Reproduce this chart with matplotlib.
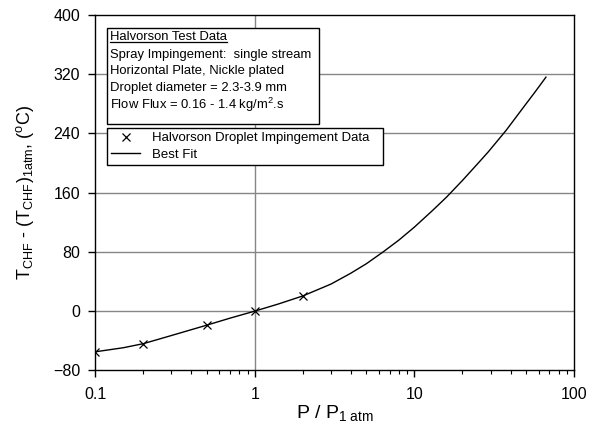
import matplotlib
matplotlib.use("Agg")
import matplotlib.pyplot as plt
from matplotlib.patches import Rectangle
from matplotlib.lines import Line2D
from matplotlib.ticker import FixedLocator, FixedFormatter, LogLocator, NullFormatter

plt.rcParams['font.family'] = ['Liberation Sans', 'DejaVu Sans']
plt.rcParams['mathtext.fontset'] = 'custom'
plt.rcParams['mathtext.rm'] = 'Liberation Sans'
plt.rcParams['mathtext.it'] = 'Liberation Sans:italic'

# Halvorson droplet impingement data
p_data = [0.1, 0.2, 0.5, 1.0, 2.0]
dt_data = [-55, -44, -19, 0, 20]

# best fit curve
p_fit = [0.1, 0.15, 0.2, 0.3, 0.5, 0.7, 1.0, 1.4, 2.0, 3.0, 3.98, 5.0, 6.37, 8.0, 10.0,
         13.0, 15.9, 20.0, 25.0, 29.0, 37.5, 48.1, 57.0, 66.7]
dt_fit = [-55, -49.5, -44, -33, -19, -9.5, 0, 9.5, 20.5, 36.5, 51, 64, 80, 96, 113.5,
          136, 154, 176.5, 199.5, 215, 244, 275, 296, 316]

y_ticks = [-80, 0, 80, 160, 240, 320, 400]
x_ticks = [0.1, 1, 10, 100]
x_labels = ['0.1', '1', '10', '100']

info_title = "Halvorson Test Data"
info_lines = ["Spray Impingement:  single stream",
              "Horizontal Plate, Nickle plated",
              "Droplet diameter = 2.3-3.9 mm",
              "Flow Flux = 0.16 - 1.4 kg/m$^2$.s"]

W, H = 593, 423
fig = plt.figure(figsize=(W / 100, H / 100), dpi=100)
ax = fig.add_axes([95.3 / W, 1 - 370.3 / H, (574 - 95.3) / W, (370.3 - 15) / H])

ax.set_xscale('log')
ax.set_xlim(0.1, 100)
ax.set_ylim(-80, 400)

for yv in y_ticks[1:-1]:
    ax.axhline(yv, color='#868686', lw=1, zorder=1)
ax.axvline(1, color='#868686', lw=1, zorder=1)

ax.plot(p_fit, dt_fit, color='black', lw=1, label='Best Fit', zorder=3)
ax.plot(p_data, dt_data, ls='none', marker='x', ms=6, mew=0.9, color='black',
        label='Halvorson Droplet Impingement Data', zorder=4)

ax.xaxis.set_major_locator(FixedLocator(x_ticks))
ax.xaxis.set_major_formatter(FixedFormatter(x_labels))
ax.xaxis.set_minor_locator(LogLocator(base=10, subs=range(2, 10)))
ax.xaxis.set_minor_formatter(NullFormatter())
ax.set_yticks(y_ticks)
ax.tick_params(which='major', direction='out', length=5, width=1, labelsize=11.5, colors='black')
ax.tick_params(axis='x', which='major', pad=7)
ax.tick_params(axis='y', which='major', pad=6)
ax.tick_params(which='minor', direction='out', length=3, width=0.8)
for s in ax.spines.values():
    s.set_linewidth(1)
    s.set_color('black')

ax.set_xlabel('P / P$_{\\rm 1\\ atm}$', fontsize=14, labelpad=1)
ax.set_ylabel('T$_{\\rm CHF}$ - (T$_{\\rm CHF}$)$_{\\rm 1atm}$, ($^{\\rm o}$C)', fontsize=13, labelpad=12)

# legend, with handles in the order of the picture
h, l = ax.get_legend_handles_labels()
leg = ax.legend(h[::-1], l[::-1], loc='upper left',
                bbox_to_anchor=(107.3 / W, 1 - 166.7 / H, (383 - 107.3) / W, (166.7 - 128) / H),
                bbox_transform=fig.transFigure, mode='expand', fontsize=9.5,
                frameon=True, fancybox=False, edgecolor='black', framealpha=1,
                borderaxespad=0, borderpad=0.3, labelspacing=0.35,
                handlelength=2.2, handletextpad=0.9)
leg.get_frame().set_linewidth(1)

# info box
fig.patches.append(Rectangle((107.3 / W, 1 - 124.3 / H), (319 - 107.3) / W, (124.3 - 28.3) / H,
                             transform=fig.transFigure, fill=True, facecolor='white',
                             edgecolor='black', lw=1, zorder=5))
ty = [36.7, 55, 71, 87.5, 104.5]
t0 = fig.text(110 / W, 1 - ty[0] / H, info_title, fontsize=9.4, va='center', ha='left', zorder=6)
for yy, s in zip(ty[1:], info_lines):
    fig.text(110 / W, 1 - yy / H, s, fontsize=9.4, va='center', ha='left', zorder=6)

fig.canvas.draw()
bb = t0.get_window_extent()
fig.lines.append(Line2D([bb.x0 / W, bb.x1 / W], [(bb.y0 + 0.5) / H, (bb.y0 + 0.5) / H],
                        transform=fig.transFigure, color='black', lw=0.9, zorder=6))

fig.savefig('out.png', dpi=100)
